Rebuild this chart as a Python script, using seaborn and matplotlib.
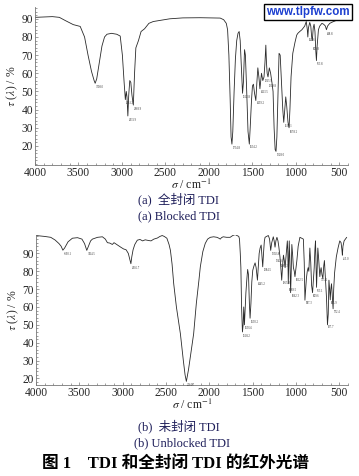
import numpy as np
import seaborn as sns
import matplotlib.pyplot as plt
import matplotlib.ticker as mticker

# (a) blocked TDI spectrum: wavenumber (cm-1) and transmittance (%)
wn_a = [4000, 3900, 3800, 3720, 3650, 3560, 3480, 3430, 3390, 3350, 3320, 3308, 3290, 3260,
        3230, 3200, 3172, 3120, 3060, 3020, 2995, 2975, 2961, 2950, 2942, 2932, 2922, 2910,
        2898, 2885, 2869, 2855, 2840, 2810, 2780, 2740, 2690, 2640, 2550, 2450, 2300, 2100,
        1950, 1870, 1830, 1800, 1785, 1770, 1755, 1745, 1735, 1725, 1710, 1695, 1680, 1665,
        1652, 1640, 1625, 1613, 1603, 1590, 1580, 1565, 1550, 1535, 1525, 1510, 1499, 1488,
        1475, 1460, 1448, 1437, 1425, 1413, 1403, 1395, 1380, 1366, 1355, 1345, 1338, 1330,
        1320, 1305, 1290, 1275, 1262, 1250, 1238, 1228, 1218, 1205, 1193, 1180, 1165, 1150,
        1139, 1128, 1116, 1105, 1090, 1078, 1068, 1055, 1035, 1010, 990, 977, 955, 930, 898,
        880, 868, 862, 855, 840, 828, 818, 810, 800, 790, 780, 770, 763, 755, 740, 725, 700,
        680, 660, 648, 635, 610, 576, 540, 500, 470, 438]
tr_a = [90.8, 91.0, 91.2, 90.8, 89.0, 86.8, 85.8, 80.0, 70.0, 61.0, 56.0, 54.5, 57.0, 66.0,
        75.0, 80.0, 81.5, 82.0, 81.5, 80.5, 70.0, 55.0, 45.5, 50.0, 47.0, 36.5, 48.0, 56.0,
        55.0, 48.0, 42.5, 60.0, 74.0, 78.0, 83.0, 84.5, 87.5, 88.5, 89.2, 90.0, 90.5, 90.6,
        90.5, 90.4, 89.5, 87.5, 84.0, 70.0, 45.0, 25.0, 21.0, 28.0, 50.0, 68.0, 78.0, 82.0,
        83.0, 78.0, 62.0, 49.0, 55.0, 73.0, 70.0, 50.0, 28.0, 21.0, 30.0, 45.0, 53.0, 54.0,
        49.0, 45.0, 55.0, 63.0, 58.0, 51.5, 56.0, 60.0, 56.0, 58.0, 66.0, 75.5, 66.0, 60.0,
        58.0, 63.0, 60.0, 55.0, 50.0, 30.0, 18.0, 17.0, 25.0, 50.0, 71.0, 70.0, 55.0, 40.0,
        33.0, 40.0, 47.0, 42.0, 33.0, 30.0, 40.0, 58.0, 71.0, 77.0, 81.0, 82.0, 83.0, 84.0, 86.0,
        88.5, 84.0, 80.0, 85.0, 88.0, 86.0, 80.0, 78.0, 85.0, 87.0, 83.0, 72.0, 67.0, 75.0,
        84.0, 86.0, 87.5, 87.0, 86.0, 84.0, 86.0, 87.5, 88.3, 89.0, 89.8, 90.5, 91.2]
peaks_a = [3308.0, 2961.2, 2931.9, 2868.9, 1734.8, 1612.8, 1534.2, 1459.2, 1413.5, 1365.9,
           1319.8, 1228.0, 1139.1, 1078.2, 862.6, 809.8, 763.8, 648.8]

# (b) unblocked TDI spectrum
wn_b = [4000, 3900, 3830, 3780, 3735, 3710, 3690, 3670, 3630, 3580, 3521, 3470, 3440, 3414,
        3395, 3370, 3349, 3290, 3234, 3200, 3176, 3150, 3119, 3100, 3070, 3040, 3023, 2990,
        2960, 2935, 2920, 2905, 2895, 2880, 2860, 2831, 2800, 2770, 2740, 2700, 2673, 2640,
        2600, 2570, 2544, 2520, 2490, 2465, 2449, 2430, 2411, 2380, 2334, 2300, 2280, 2265,
        2240, 2210, 2181, 2150, 2120, 2104, 2075, 2047, 2020, 1989, 1950, 1912, 1890, 1874,
        1860, 1840, 1800, 1760, 1730, 1702, 1680, 1660, 1652, 1643, 1636, 1628, 1618, 1610,
        1603, 1595, 1588, 1578, 1568, 1558, 1548, 1538, 1530, 1520, 1510, 1499, 1485, 1472,
        1460, 1445, 1435, 1425, 1414, 1402, 1392, 1384, 1375, 1365, 1357, 1340, 1319, 1305,
        1292, 1280, 1262, 1252, 1242, 1232, 1220, 1208, 1198, 1185, 1175, 1165, 1155, 1145,
        1135, 1126, 1112, 1100, 1094, 1089, 1083, 1078, 1070, 1062, 1055, 1048, 1040, 1030,
        1020, 1012, 1000, 990, 975, 955, 935, 915, 905, 897, 889, 880, 870, 860, 852, 845,
        840, 830, 820, 809, 800, 790, 782, 775, 770, 763, 755, 748, 740, 730, 725, 718, 710,
        700, 690, 680, 672, 665, 658, 648, 637, 628, 620, 612, 605, 598, 590, 580, 572, 565,
        555, 535, 515, 495, 480, 470, 465, 458, 445, 430, 415]
tr_b = [100.0, 99.5, 99.0, 97.5, 95.5, 94.0, 91.8, 93.0, 96.5, 98.5, 98.8, 98.0, 95.5, 91.7,
        94.0, 97.0, 98.0, 99.0, 99.3, 98.0, 96.0, 95.8, 95.0, 96.0, 95.0, 94.0, 93.5, 92.5,
        92.0, 90.0, 87.0, 84.2, 88.0, 92.0, 95.0, 97.4, 97.8, 97.0, 97.6, 97.2, 97.0, 98.0,
        98.6, 99.5, 100.0, 99.5, 98.5, 95.0, 91.7, 84.0, 73.0, 60.0, 45.0, 30.0, 22.0, 18.3,
        25.0, 35.0, 45.0, 62.0, 75.0, 82.5, 91.0, 95.6, 98.0, 99.0, 99.3, 99.0, 98.5, 98.0,
        98.8, 99.3, 99.0, 99.0, 100.0, 100.5, 100.0, 99.5, 98.0, 90.0, 82.0, 60.0, 46.0, 50.0,
        60.0, 50.0, 57.0, 68.0, 75.0, 81.0, 78.0, 62.0, 53.7, 62.0, 74.0, 80.5, 83.0, 84.7,
        82.0, 75.0, 83.0, 90.0, 93.0, 94.7, 88.0, 82.5, 90.0, 97.0, 99.0, 99.5, 100.0, 98.0,
        91.7, 96.0, 99.3, 97.0, 93.5, 97.0, 99.0, 97.0, 93.7, 88.0, 82.0, 75.0, 83.0, 89.0,
        86.0, 82.0, 90.0, 97.0, 90.0, 73.0, 86.0, 97.0, 85.0, 68.0, 80.0, 95.0, 90.0, 82.0,
        80.0, 77.0, 82.0, 86.0, 94.0, 99.0, 98.5, 98.0, 85.0, 63.8, 70.0, 76.0, 80.0, 82.0,
        80.0, 88.0, 93.0, 85.0, 72.0, 68.0, 75.0, 82.0, 92.0, 97.0, 85.0, 71.0, 82.0, 93.0,
        88.0, 80.0, 77.0, 80.0, 82.0, 78.0, 76.0, 83.0, 86.0, 80.0, 75.0, 65.0, 50.0, 56.0,
        75.0, 70.0, 64.0, 70.0, 73.0, 65.0, 59.0, 70.0, 79.0, 88.0, 93.0, 97.0, 96.0, 92.0,
        89.0, 94.0, 97.0, 98.0, 99.0]
peaks_b = [3690.1, 3414.5, 2905.7, 2264.7, 1618.2, 1595.6, 1530.2, 1445.2, 1384.5, 1292.8,
           1242.6, 1185.3, 1165.8, 1089.5, 1062.3, 1012.5, 897.3, 809.6, 763.1, 725.4,
           637.7, 605.9, 572.4, 465.0]

sns.set_theme(style="ticks")
plt.rcParams['font.family'] = ['Liberation Serif', 'Noto Sans CJK SC']
plt.rcParams['mathtext.fontset'] = 'stix'

fig = plt.figure(figsize=(3.59, 4.76), dpi=100)
ax1 = fig.add_axes([35 / 359, 1 - 165 / 476, 313 / 359, 158 / 476])
ax2 = fig.add_axes([36 / 359, 1 - 385 / 476, 312 / 359, 150 / 476])


def overlaps(a, b):
    return not (a.x1 < b.x0 or b.x1 < a.x0 or a.y1 < b.y0 or b.y1 < a.y0)


def draw(ax, wn, tr, peaks, ylim):
    sns.lineplot(x=wn, y=tr, sort=False, estimator=None, color='#2a2a2a', lw=0.6, ax=ax)
    ax.set_xlim(4000, 400)
    ax.set_ylim(*ylim)
    ax.set_xticks(range(4000, 499, -500))
    ax.xaxis.set_minor_locator(mticker.MultipleLocator(100))
    ax.set_yticks(range(20, 91, 10))
    ax.yaxis.set_minor_locator(mticker.MultipleLocator(2))
    ax.tick_params(which='both', direction='in', labelsize=8.3, color='#777777',
                   width=0.5, pad=1.5)
    ax.tick_params(which='major', length=2.5)
    ax.tick_params(which='minor', length=1.2)
    for s in ['top', 'right']:
        ax.spines[s].set_visible(False)
    for s in ['left', 'bottom']:
        ax.spines[s].set_color('#777777')
        ax.spines[s].set_linewidth(0.6)
    ax.set_xlabel(r"$\sigma$ / cm$^{-1}$", fontsize=8.5, labelpad=-1)
    ax.set_ylabel(r"$\tau$ ($\lambda$) / %", fontsize=8.5, labelpad=1)

    # peak labels under the minima, pushed further down when they would collide
    wr, tr_r = np.array(wn)[::-1], np.array(tr)[::-1]
    renderer = fig.canvas.get_renderer()
    placed = []
    for p in peaks:
        for dy in [-1.5, -5.0, -8.5, -12.0, -15.5]:
            t = ax.annotate(f"{p:.1f}", (p, np.interp(p, wr, tr_r)), xytext=(0.5, dy),
                            textcoords='offset points', ha='left', va='top', fontsize=2.1,
                            color='#333333')
            bb = t.get_window_extent(renderer).expanded(1.1, 1.2)
            if not any(overlaps(bb, q) for q in placed):
                break
            t.remove()
            t = None
        if t is None:
            t = ax.annotate(f"{p:.1f}", (p, np.interp(p, wr, tr_r)), xytext=(0.5, -19),
                            textcoords='offset points', ha='left', va='top', fontsize=2.1,
                            color='#333333')
            bb = t.get_window_extent(renderer)
        placed.append(bb)


draw(ax1, wn_a, tr_a, peaks_a, (9.5, 96.5))
draw(ax2, wn_b, tr_b, peaks_b, (16.3, 100.3))

cap = '#1e1e5a'
fig.text(178 / 359, 1 - 199 / 476, "(a)  全封闭 TDI", ha='center', va='center', fontsize=9, color=cap)
fig.text(179 / 359, 1 - 216 / 476, "(a) Blocked TDI", ha='center', va='center', fontsize=9, color=cap)
fig.text(179 / 359, 1 - 426 / 476, "(b)  未封闭 TDI", ha='center', va='center', fontsize=9, color=cap)
fig.text(182 / 359, 1 - 443 / 476, "(b) Unblocked TDI", ha='center', va='center', fontsize=9, color=cap)
fig.text(176 / 359, 1 - 464 / 476, "图 1　TDI 和全封闭 TDI 的红外光谱", ha='center', va='center',
         fontsize=12, fontweight='bold', color='black')

fig.text(308 / 359, 1 - 12 / 476, "www.tlpfw.com", ha='center', va='center', fontsize=8.3,
         fontweight='bold', color='#1c3fd0', family=['Liberation Sans'],
         bbox=dict(boxstyle='square,pad=0.2', fc='white', ec='black', lw=1))

plt.savefig("out.png", dpi=100)
